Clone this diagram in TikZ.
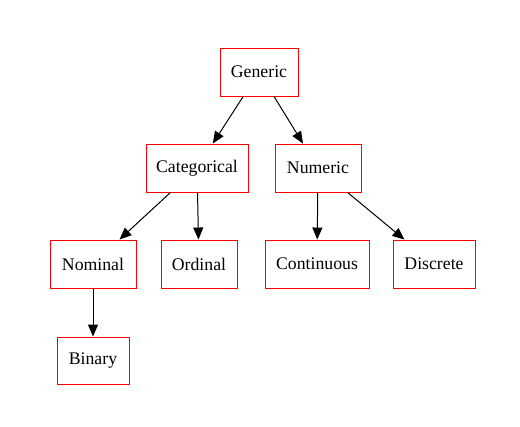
\documentclass[tikz,border=0pt]{standalone}
\usepackage{fontspec}
\setmainfont{Liberation Serif}
\usetikzlibrary{arrows.meta}
\begin{document}
\begin{tikzpicture}[x=0.75pt,y=-0.75pt,
  box/.style={draw=red,line width=0.7pt,minimum height=36pt,inner sep=0pt,font=\fontsize{13.3}{16}\selectfont},
  edge/.style={line width=0.75pt,-{Triangle[length=9pt,width=7.5pt]}}]
\useasboundingbox (0,0) rectangle (520,427);
\node[box,minimum width=58.5pt] (gen) at (259,72) {Generic};
\node[box,minimum width=76.5pt] (cat) at (197,168) {Categorical};
\node[box,minimum width=64.5pt] (num) at (318,168) {Numeric};
\node[box,minimum width=64.5pt] (nom) at (93,264) {Nominal};
\node[box,minimum width=57pt] (ord) at (199,264) {Ordinal};
\node[box,minimum width=78pt] (con) at (317,264) {Continuous};
\node[box,minimum width=61.5pt] (dis) at (434,264) {Discrete};
\node[box,minimum width=54pt,minimum height=35.25pt] (bin) at (93,360.5) {Binary};
\draw[edge] (gen) -- (cat);
\draw[edge] (gen) -- (num);
\draw[edge] (cat) -- (nom);
\draw[edge] (cat) -- (ord);
\draw[edge] (num) -- (con);
\draw[edge] (num) -- (dis);
\draw[edge] (nom) -- (bin);
\end{tikzpicture}
\end{document}
